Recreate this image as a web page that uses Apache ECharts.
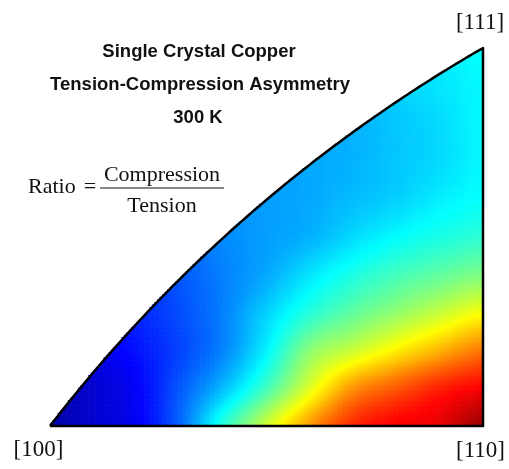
<!DOCTYPE html>
<html><head><meta charset="utf-8">
<script src="https://cdn.jsdelivr.net/npm/echarts@6/dist/echarts.min.js"></script>
<style>html,body{margin:0;padding:0;background:#fff}#c{width:509px;height:469px}</style>
</head><body><div id="c"></div>
<script>
// Normalised coordinates inside the stereographic triangle:
// u: [100] (0) -> [110] (1) along the bottom edge, v: bottom (0) -> [111] (1)
const gridU = [0, 0.1, 0.2, 0.3, 0.4, 0.5, 0.6, 0.7, 0.8, 0.9, 1.0];
const gridV = [0, 0.1, 0.2, 0.3, 0.4, 0.5, 0.6, 0.7, 0.8, 0.9, 1.0];

// Relative compression/tension ratio level (0 = lowest, 1 = highest)
const levelV00 = [0.04, 0.08, 0.115, 0.225, 0.41, 0.575, 0.725, 0.835, 0.88, 0.90, 0.97];
const levelV01 = [0.05, 0.08, 0.12, 0.21, 0.31, 0.44, 0.595, 0.73, 0.79, 0.845, 0.88];
const levelV02 = [0.08, 0.10, 0.14, 0.19, 0.255, 0.365, 0.51, 0.575, 0.64, 0.70, 0.76];
const levelV03 = [null, 0.13, 0.16, 0.20, 0.25, 0.33, 0.41, 0.47, 0.52, 0.57, 0.62];
const levelV04 = [null, null, 0.18, 0.21, 0.25, 0.29, 0.35, 0.40, 0.44, 0.47, 0.50];
const levelV05 = [null, null, null, 0.23, 0.26, 0.28, 0.30, 0.34, 0.375, 0.40, 0.42];
const levelV06 = [null, null, null, null, 0.27, 0.28, 0.29, 0.31, 0.33, 0.36, 0.38];
const levelV07 = [null, null, null, null, null, 0.28, 0.29, 0.30, 0.32, 0.34, 0.37];
const levelV08 = [null, null, null, null, null, null, 0.29, 0.30, 0.32, 0.34, 0.37];
const levelV09 = [null, null, null, null, null, null, null, 0.31, 0.33, 0.35, 0.37];
const levelV10 = [null, null, null, null, null, null, null, null, 0.33, 0.35, 0.38];

// points on the [100]-[111] boundary (a great circle, drawn as a circular arc)
const boundaryU = [0, 0.0577, 0.132, 0.284, 0.450, 0.577, 0.670, 0.820, 0.924, 1];
const boundaryV = [0, 0.0873, 0.183, 0.368, 0.540, 0.669, 0.757, 0.884, 0.955, 1];

const titleLines = ['Single Crystal Copper', 'Tension-Compression Asymmetry', '300 K'];
const ratioLabel = 'Ratio';
const ratioNumerator = 'Compression';
const ratioDenominator = 'Tension';
const cornerLabels = ['[100]', '[110]', '[111]'];

const levels = [levelV00, levelV01, levelV02, levelV03, levelV04, levelV05,
                levelV06, levelV07, levelV08, levelV09, levelV10];

// plot area
const W = 509, H = 469;
const gridLeft = 50, gridRight = 26, gridTop = 48, gridBottom = 43;
const plotW = W - gridLeft - gridRight, plotH = H - gridTop - gridBottom;

// circle through the two end points, best fit to the other boundary points (pixel space)
const arc = (function () {
  const mx = plotW / 2, my = plotH / 2;
  const len = Math.hypot(plotW, plotH);
  const nx = plotH / len, ny = -plotW / len;
  let best = null;
  function cost(s) {
    const cx = mx + s * nx, cy = my + s * ny;
    const r = Math.hypot(cx, cy);
    let e = 0;
    for (let k = 1; k < boundaryU.length - 1; k++) {
      const d = Math.hypot(boundaryU[k] * plotW - cx, boundaryV[k] * plotH - cy) - r;
      e += d * d;
    }
    return e;
  }
  let bs = 0, be = Infinity;
  for (let s = 200; s <= 6000; s += 1) { const e = cost(s); if (e < be) { be = e; bs = s; } }
  for (let s = bs - 1; s <= bs + 1; s += 0.01) { const e = cost(s); if (e < be) { be = e; bs = s; } }
  const cx = mx + bs * nx, cy = my + bs * ny;
  return { cx: cx, cy: cy, r: Math.hypot(cx, cy) };
})();

function vmaxAt(u) {
  const X = Math.max(0, Math.min(1, u)) * plotW;
  const d = arc.r * arc.r - (X - arc.cx) * (X - arc.cx);
  return (arc.cy + Math.sqrt(Math.max(0, d))) / plotH;
}
function clamp01(x) { return Math.max(0, Math.min(1, x)); }
function jet(t) {
  t = clamp01(t);
  const r = clamp01(1.5 - Math.abs(4 * t - 3));
  const g = clamp01(1.5 - Math.abs(4 * t - 2));
  const b = clamp01(1.5 - Math.abs(4 * t - 1));
  return 'rgb(' + Math.round(r * 255) + ',' + Math.round(g * 255) + ',' + Math.round(b * 255) + ')';
}
function cr(p0, p1, p2, p3, t) {
  return 0.5 * ((2 * p1) + (-p0 + p2) * t + (2 * p0 - 5 * p1 + 4 * p2 - p3) * t * t + (-p0 + 3 * p1 - 3 * p2 + p3) * t * t * t);
}
// smooth (Catmull-Rom) shading between the read grid values
function levelAt(i, j, s, r) {
  const nI = gridU.length, nJ = gridV.length;
  const own = [levels[j][i], levels[j][i + 1], levels[j + 1][i], levels[j + 1][i + 1]].filter(x => x !== null);
  const mean = own.reduce((a, b) => a + b, 0) / own.length;
  function node(ii, jj) {
    ii = Math.max(0, Math.min(nI - 1, ii)); jj = Math.max(0, Math.min(nJ - 1, jj));
    const x = levels[jj][ii];
    return x === null ? mean : x;
  }
  const rows = [];
  for (let dj = -1; dj <= 2; dj++) {
    rows.push(cr(node(i - 1, j + dj), node(i, j + dj), node(i + 1, j + dj), node(i + 2, j + dj), s));
  }
  return cr(rows[0], rows[1], rows[2], rows[3], r);
}

const cells = [];
for (let j = 0; j < gridV.length - 1; j++) {
  for (let i = 0; i < gridU.length - 1; i++) {
    cells.push([gridU[i], gridV[j], i, j]);
  }
}

function renderCell(params, api) {
  const i = api.value(2), j = api.value(3);
  const u0 = gridU[i], u1 = gridU[i + 1], v0 = gridV[j], v1 = gridV[j + 1];
  if (v0 >= Math.max(vmaxAt(u0), vmaxAt(u1))) return null;
  const p0 = api.coord([u0, v0]), p1 = api.coord([u1, v1]);
  const nx = Math.max(1, Math.round(Math.abs(p1[0] - p0[0]) / 2.5));
  const ny = Math.max(1, Math.round(Math.abs(p1[1] - p0[1]) / 2.5));
  const children = [];
  for (let a = 0; a < nx; a++) {
    const ua = u0 + (u1 - u0) * a / nx, ub = u0 + (u1 - u0) * (a + 1) / nx;
    const ta = vmaxAt(ua), tb = vmaxAt(ub);
    for (let b = 0; b < ny; b++) {
      const va = v0 + (v1 - v0) * b / ny, vb = v0 + (v1 - v0) * (b + 1) / ny;
      if (va >= Math.max(ta, tb)) continue;
      const topA = Math.min(vb, Math.max(va, ta)), topB = Math.min(vb, Math.max(va, tb));
      const val = levelAt(i, j, (a + 0.5) / nx, (b + 0.5) / ny);
      const col = jet(val);
      children.push({
        type: 'polygon',
        shape: { points: [api.coord([ua, va]), api.coord([ub, va]), api.coord([ub, topB]), api.coord([ua, topA])] },
        style: { fill: col, stroke: col, lineWidth: 0.7 }
      });
    }
  }
  return { type: 'group', children: children };
}

const borderData = [];
for (let k = 0; k <= 120; k++) { const u = k / 120; borderData.push([u, vmaxAt(u)]); }
borderData.push([1, 0], [0, 0]);

const chart = echarts.init(document.getElementById('c'), null, { renderer: 'canvas' });
const serif = '"Liberation Serif", "Times New Roman", serif';
const sans = '"Liberation Sans", Arial, sans-serif';
chart.setOption({
  backgroundColor: '#ffffff',
  animation: false,
  grid: { left: gridLeft, right: gridRight, top: gridTop, bottom: gridBottom, containLabel: false },
  xAxis: { type: 'value', min: 0, max: 1, show: false },
  yAxis: { type: 'value', min: 0, max: 1, show: false },
  series: [
    {
      type: 'custom', silent: true, z: 1,
      renderItem: renderCell,
      encode: { x: 0, y: 1 },
      data: cells,
      clip: false
    },
    {
      type: 'line', silent: true, z: 5,
      data: borderData,
      symbol: 'none',
      lineStyle: { color: '#000', width: 2.5, join: 'round' },
      clip: false
    }
  ],
  graphic: [
    { type: 'text', x: 199, y: 52, style: { text: titleLines[0], font: 'bold 18.5px ' + sans, fill: '#111', align: 'center', verticalAlign: 'middle' } },
    { type: 'text', x: 200, y: 85, style: { text: titleLines[1], font: 'bold 18.5px ' + sans, fill: '#111', align: 'center', verticalAlign: 'middle' } },
    { type: 'text', x: 198, y: 118, style: { text: titleLines[2], font: 'bold 18.5px ' + sans, fill: '#111', align: 'center', verticalAlign: 'middle' } },
    { type: 'text', x: 28, y: 187, style: { text: ratioLabel, font: '22px ' + serif, fill: '#111', align: 'left', verticalAlign: 'middle' } },
    { type: 'text', x: 90, y: 187, style: { text: '=', font: '22px ' + serif, fill: '#111', align: 'center', verticalAlign: 'middle' } },
    { type: 'text', x: 162, y: 175, style: { text: ratioNumerator, font: '22px ' + serif, fill: '#111', align: 'center', verticalAlign: 'middle' } },
    { type: 'line', shape: { x1: 100, y1: 188, x2: 224, y2: 188 }, style: { stroke: '#111', lineWidth: 1.2 } },
    { type: 'text', x: 162, y: 206, style: { text: ratioDenominator, font: '22px ' + serif, fill: '#111', align: 'center', verticalAlign: 'middle' } },
    { type: 'text', x: 38.5, y: 450, style: { text: cornerLabels[0], font: '23px ' + serif, fill: '#111', align: 'center', verticalAlign: 'middle' } },
    { type: 'text', x: 480.5, y: 451, style: { text: cornerLabels[1], font: '23px ' + serif, fill: '#111', align: 'center', verticalAlign: 'middle' } },
    { type: 'text', x: 480, y: 23, style: { text: cornerLabels[2], font: '23px ' + serif, fill: '#111', align: 'center', verticalAlign: 'middle' } }
  ]
});
</script></body></html>
